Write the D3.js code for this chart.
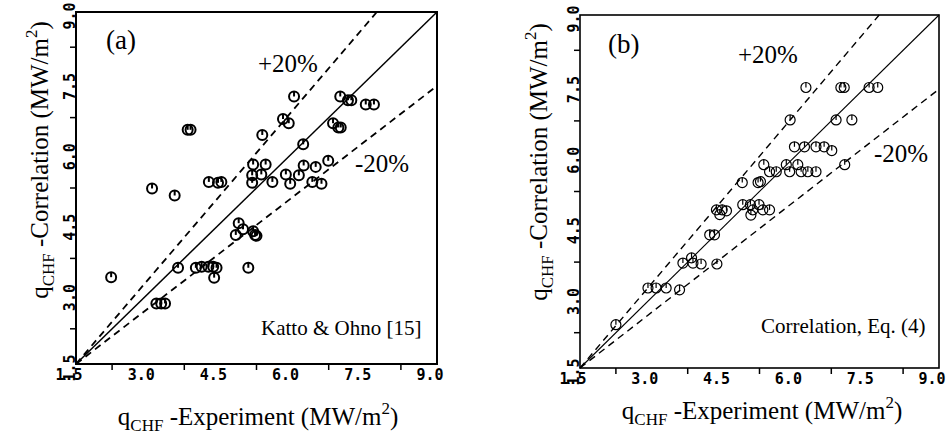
<!DOCTYPE html>
<html>
<head>
<meta charset="utf-8">
<script src="https://cdn.jsdelivr.net/npm/d3@7"></script>
<style>
  body { margin: 0; background: #fff; }
  svg { display: block; }
  .tick-lab { font-family: "DejaVu Sans Mono", monospace; font-weight: bold; font-size: 15px; }
  .serif { font-family: "Liberation Serif", "Times New Roman", serif; }
</style>
</head>
<body>
<div id="chart"></div>
<script>
// values (MW/m2)
const tickVals = [1.5, 3.0, 4.5, 6.0, 7.5, 9.0];
const minorVals = [2.25, 3.75, 5.25, 6.75, 8.25];

// (a) Katto & Ohno
const aExp  = [2.23, 3.08, 3.55, 3.82, 3.88, 3.17, 3.27, 3.35, 3.62, 3.99, 4.11, 4.25, 4.35, 4.42,
               4.37, 4.26, 4.45, 4.52, 4.88, 4.82, 4.97, 5.18, 5.22, 5.25, 5.08, 5.18, 5.16, 5.16,
               5.37, 5.44, 5.35, 5.58, 5.80, 5.92, 6.03, 5.86, 5.95, 6.22, 6.13, 6.23, 6.48, 6.41,
               6.60, 6.74, 6.84, 6.95, 7.00, 6.99, 7.15, 7.22, 7.52, 7.69];
const aCorr = [3.35, 5.24, 5.09, 6.49, 6.49, 2.79, 2.79, 2.79, 3.55, 3.55, 3.57, 3.57, 3.57, 3.55,
               3.34, 5.38, 5.36, 5.38, 4.50, 4.25, 4.37, 4.33, 4.25, 4.23, 3.55, 5.75, 5.52, 5.36,
               6.38, 5.75, 5.54, 5.38, 6.72, 6.63, 7.20, 5.54, 5.34, 6.18, 5.52, 5.73, 5.70, 5.38,
               5.34, 5.83, 6.63, 6.54, 6.54, 7.20, 7.12, 7.12, 7.03, 7.03];

// (b) Correlation, Eq. (4)
const bExp  = [2.25, 2.92, 3.09, 3.30, 3.58, 3.65, 3.83, 3.86, 4.03, 4.36, 4.21, 4.31, 4.35, 4.47,
               4.56, 4.42, 4.89, 5.22, 5.27, 4.90, 5.06, 5.24, 5.32, 5.46, 5.11, 5.07, 5.34, 5.46,
               5.60, 5.88, 6.12, 6.26, 6.43, 5.81, 6.05, 5.98, 6.19, 6.43, 6.60, 6.76, 5.89, 6.85,
               7.18, 6.22, 6.95, 7.02, 7.54, 7.72, 7.03];
const bCorr = [2.42, 3.20, 3.20, 3.20, 3.16, 3.73, 3.84, 3.73, 3.71, 3.71, 4.33, 4.33, 4.86, 4.86,
               4.84, 4.76, 5.44, 5.44, 5.46, 4.97, 4.97, 4.97, 4.86, 4.86, 4.86, 4.75, 5.82, 5.67,
               5.67, 5.67, 5.67, 5.67, 5.67, 5.82, 5.82, 6.20, 6.20, 6.20, 6.20, 6.12, 6.77, 6.77,
               6.77, 7.46, 7.46, 7.46, 7.46, 7.46, 5.82];

// reference lines through (1.5, 1.5): exact, +20 %, -20 %
const refSlopes = [1, 1.2, 0.79];

const W = 946, H = 435;
const svg = d3.select("#chart").append("svg").attr("width", W).attr("height", H);

const panels = [
  { tag: "(a)", note: "Katto & Ohno [15]", xs: aExp, ys: aCorr,
    xr: [76, 437], yr: [364, 12], frameW: 2, lineW: 1.5, markW: 2,
    tagPos: [106, 49], plusPos: [258, 72], minusPos: [355, 172], notePos: [261, 335],
    xLabBase: 380, xTitle: [258, 425], yTitle: [48, 160] },
  { tag: "(b)", note: "Correlation, Eq. (4)", xs: bExp, ys: bCorr,
    xr: [580, 939], yr: [368, 15], frameW: 1.6, lineW: 1.1, markW: 1.2,
    tagPos: [608, 53], plusPos: [738, 63], minusPos: [874, 162], notePos: [761, 333],
    xLabBase: 384, xTitle: [762, 419], yTitle: [547, 162] }
];

panels.forEach(p => {
  const x = d3.scaleLinear().domain([1.5, 9.0]).range(p.xr);
  const y = d3.scaleLinear().domain([1.5, 9.0]).range(p.yr);
  const g = svg.append("g");

  // reference lines
  refSlopes.forEach(k => {
    const x2 = Math.min(9, 1.5 + 7.5 / k);
    const y2 = 1.5 + k * (x2 - 1.5);
    g.append("line")
      .attr("x1", x(1.5)).attr("y1", y(1.5))
      .attr("x2", x(x2)).attr("y2", y(y2))
      .attr("stroke", "#000")
      .attr("stroke-width", k === 1 ? p.lineW : p.lineW + 0.3)
      .attr("stroke-dasharray", k === 1 ? null : "7,5");
  });

  // markers
  const pts = p.xs.map((v, i) => [v, p.ys[i]]);
  const m = g.selectAll(".pt").data(pts).join("g")
    .attr("class", "pt")
    .attr("transform", d => `translate(${x(d[0])},${y(d[1])})`);
  m.append("circle").attr("r", 5).attr("fill", "none")
    .attr("stroke", "#000").attr("stroke-width", p.markW);
  m.append("line").attr("x1", 0).attr("y1", -5).attr("x2", 0).attr("y2", 0)
    .attr("stroke", "#000").attr("stroke-width", p.markW);

  // frame
  g.append("rect")
    .attr("x", p.xr[0]).attr("y", p.yr[1])
    .attr("width", p.xr[1] - p.xr[0]).attr("height", p.yr[0] - p.yr[1])
    .attr("fill", "none").attr("stroke", "#000").attr("stroke-width", p.frameW);

  // ticks (outward, between labels)
  g.selectAll(".xt").data(minorVals).join("line")
    .attr("x1", d => x(d)).attr("x2", d => x(d))
    .attr("y1", p.yr[0]).attr("y2", p.yr[0] + 6)
    .attr("stroke", "#000").attr("stroke-width", 1.5);
  g.selectAll(".yt").data(minorVals).join("line")
    .attr("y1", d => y(d)).attr("y2", d => y(d))
    .attr("x1", p.xr[0]).attr("x2", p.xr[0] - 6)
    .attr("stroke", "#000").attr("stroke-width", 1.5);

  // tick labels
  g.selectAll(".xl").data(tickVals).join("text")
    .attr("class", "tick-lab")
    .attr("x", d => x(d) - 7).attr("y", p.xLabBase)
    .attr("text-anchor", "middle")
    .text(d => d.toFixed(1));
  g.selectAll(".yl").data(tickVals).join("text")
    .attr("class", "tick-lab")
    .attr("transform", d => `translate(${p.xr[0] - 1},${y(d) + 4}) rotate(-90)`)
    .attr("text-anchor", "middle")
    .text(d => d.toFixed(1));

  // annotations
  const txt = (pos, s, size) => g.append("text").attr("class", "serif")
    .attr("x", pos[0]).attr("y", pos[1]).attr("font-size", size).text(s);
  txt(p.tagPos, p.tag, 27);
  txt(p.plusPos, "+20%", 25);
  txt(p.minusPos, "-20%", 25);
  txt(p.notePos, p.note, 21);

  // axis titles
  const title = (sel, word) => {
    sel.append("tspan").text("q");
    sel.append("tspan").attr("font-size", 17).attr("dy", 6).text("CHF");
    sel.append("tspan").attr("dy", -6).text(" -" + word + " (MW/m");
    sel.append("tspan").attr("font-size", 17).attr("dy", -11).text("2");
    sel.append("tspan").attr("dy", 11).text(")");
  };
  const xt = g.append("text").attr("class", "serif").attr("font-size", 25)
    .attr("text-anchor", "middle")
    .attr("x", p.xTitle[0]).attr("y", p.xTitle[1]);
  title(xt, "Experiment");
  const yt = g.append("text").attr("class", "serif").attr("font-size", 25)
    .attr("text-anchor", "middle")
    .attr("transform", `translate(${p.yTitle[0]},${p.yTitle[1]}) rotate(-90)`);
  title(yt, "Correlation");
});
</script>
</body>
</html>
